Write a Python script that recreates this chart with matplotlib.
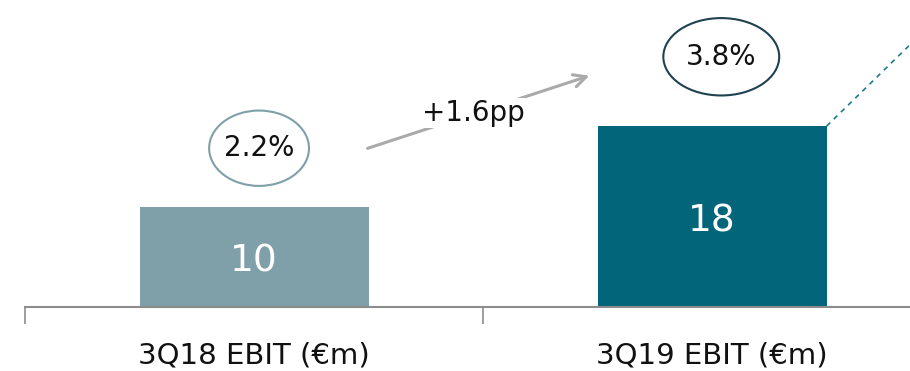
import matplotlib
matplotlib.use("Agg")
import matplotlib.pyplot as plt
from matplotlib.patches import Ellipse

plt.rcParams['font.family'] = ['DejaVu Sans']

categories = ['3Q18 EBIT (€m)', '3Q19 EBIT (€m)']
ebit = [10, 18]
margins = ['2.2%', '3.8%']
margin_change = '+1.6pp'

bar_colors = ['#7fa0a8', '#03657a']
ring_colors = ['#7fa0a8', '#1f4150']

fig = plt.figure(figsize=(9.10, 3.71), dpi=100)
ax = fig.add_axes([25 / 910, 64 / 371, 885 / 910, 307 / 371])
ax.set_xlim(-0.5, 1.432)
ax.set_ylim(0, 30.55)

x = list(range(len(categories)))
bars = ax.bar(x, ebit, width=0.5, color=bar_colors, zorder=2)
for xi, v in zip(x, ebit):
    ax.text(xi, v / 2 - 0.5, str(v), ha='center', va='center', color='white',
            fontsize=27, zorder=3)

# margin bubbles above the bars
ring_pos = [(0.011, 15.8), (1.02, 24.9)]
ring_size = [(0.218, 7.5), (0.253, 7.7)]
for (cx, cy), (w, h), lab, ec in zip(ring_pos, ring_size, margins, ring_colors):
    ax.add_patch(Ellipse((cx, cy), w, h, fill=False, edgecolor=ec, lw=1.5,
                         zorder=3))
    ax.text(cx, cy, lab, ha='center', va='center', fontsize=20, color='#111111',
            zorder=4)

# arrow between the two margins
ax.annotate('', xy=(0.738, 23.1), xytext=(0.242, 15.7),
            arrowprops=dict(arrowstyle='->,head_length=0.9,head_width=0.45',
                            color='#aaaaaa', lw=2.2), zorder=2)
ax.text(0.478, 19.3, margin_change, ha='center', va='center', fontsize=20,
        color='#111111', zorder=4,
        bbox=dict(facecolor='white', edgecolor='none', pad=1))

# dotted guide off the top of the 3Q19 bar
ax.plot([1.25, 1.432], [ebit[1], 26.1], color='#1a7a90', lw=1.2,
        linestyle=(0, (3, 3)), zorder=2, clip_on=False)

for s in ['top', 'right', 'left']:
    ax.spines[s].set_visible(False)
ax.spines['bottom'].set_color('#8c8c8c')
ax.spines['bottom'].set_linewidth(1.5)
ax.set_yticks([])
ax.set_xticks([-0.5, 0.5])
ax.set_xticklabels([])
ax.tick_params(axis='x', length=12, color='#8c8c8c', width=1.2)
for xi, lab in zip(x, categories):
    ax.text(xi, -4.8, lab, ha='center', va='center', fontsize=21,
            color='#111111', clip_on=False)

fig.savefig('out.png', dpi=100)
